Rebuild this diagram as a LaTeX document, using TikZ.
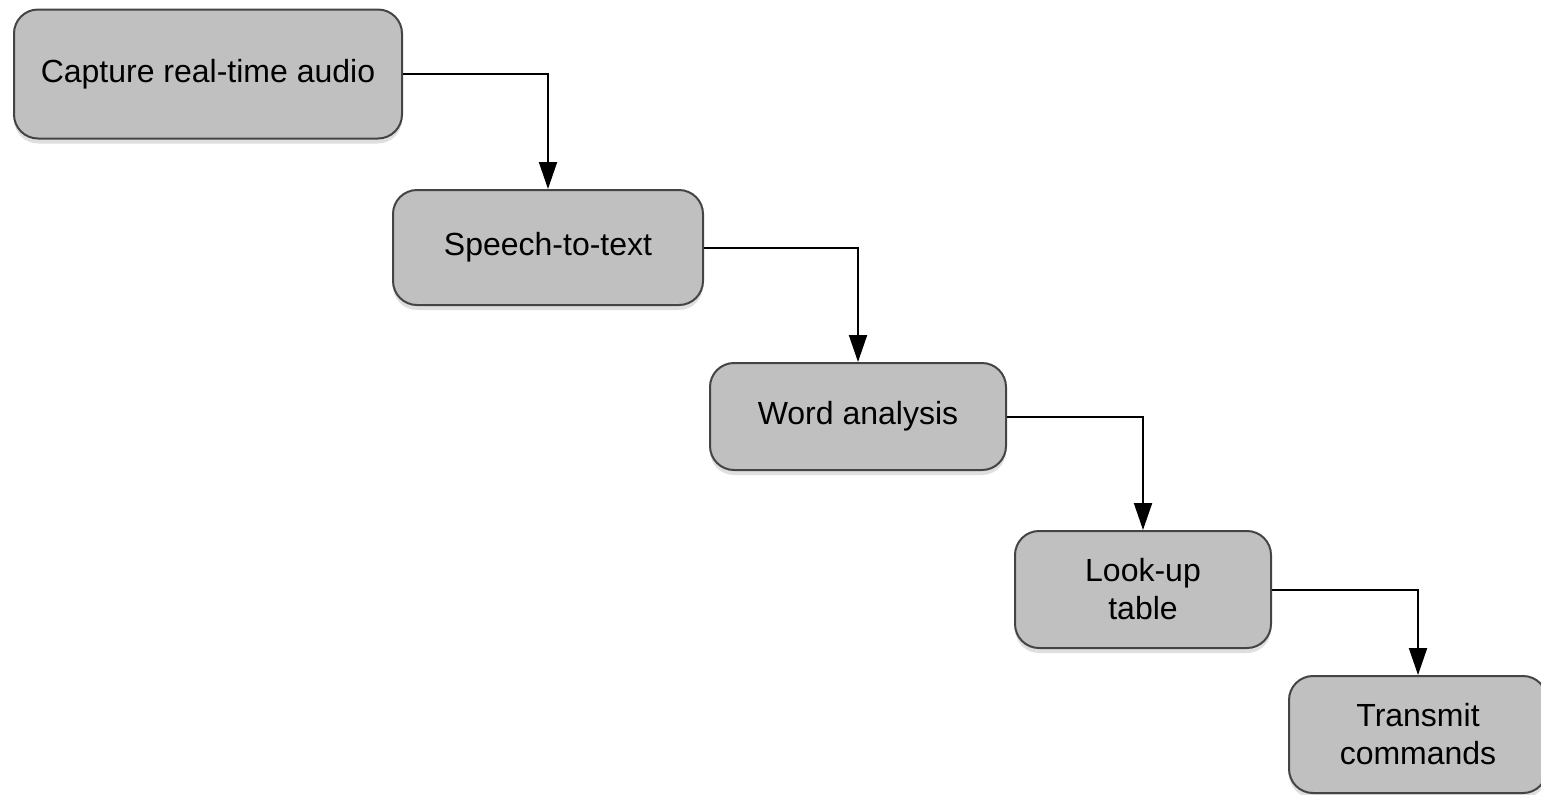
\documentclass[tikz,border=0pt]{standalone}
\usepackage{fontspec}
\setmainfont{Liberation Sans}
\usepackage{tikz}
\usetikzlibrary{positioning,arrows.meta,shadows}
\definecolor{colorbox}     {RGB}{192,192,192}
\definecolor{colorborder}  {RGB}{68 ,68 ,68 }

\begin{document}
\begin{tikzpicture}[
    x=0.5pt, y=-0.5pt,
    font={\fontsize{16}{19}\selectfont},
    base/.style={text=black,inner sep=4pt,align=center,rectangle},
    stepbox/.style={base,fill=colorbox,draw=colorborder,line width=1pt,rounded corners=12pt,
        drop shadow={shadow xshift=0pt,shadow yshift=-2.5pt,opacity=0.25}},
    flow/.style={-{Triangle[length=13.5pt,width=9pt]},line width=1pt,black},
]

    \useasboundingbox (0,0) rectangle (1541,794);

    % Steps
    \node[stepbox,minimum width=194pt,minimum height=64.5pt] (capture) at (208,74)     {Capture real-time audio};
    \node[stepbox,minimum width=155pt,minimum height=57.5pt] (speech) at (548,247.5)   {Speech-to-text};
    \node[stepbox,minimum width=148pt,minimum height=53.5pt] (words) at (858,416.5)    {Word analysis};
    \node[stepbox,minimum width=128pt,minimum height=58.5pt] (lookup) at (1143,589.5)  {Look-up\\table};
    \node[stepbox,minimum width=129pt,minimum height=58.5pt] (transmit) at (1418,734.5) {Transmit\\commands};

    % Flow
    \draw[flow](capture.east) -| (speech.north);
    \draw[flow](speech.east) -| (words.north);
    \draw[flow](words.east) -| (lookup.north);
    \draw[flow](lookup.east) -| (transmit.north);

\end{tikzpicture}
\end{document}
